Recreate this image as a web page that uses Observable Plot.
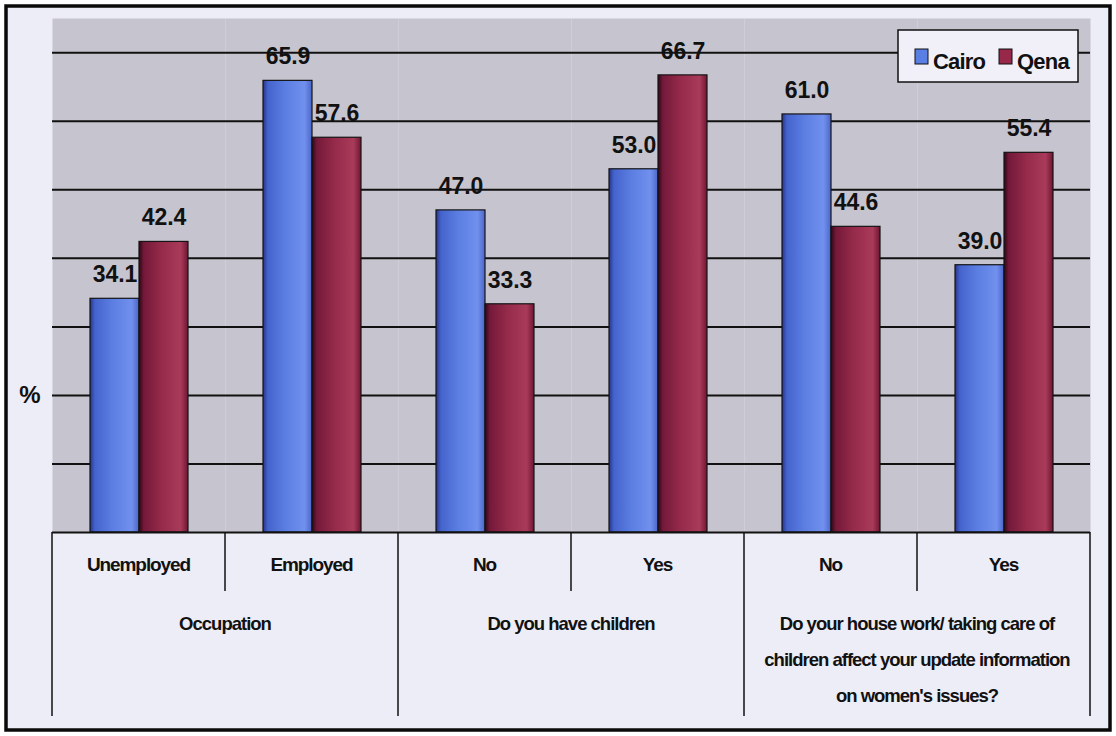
<!DOCTYPE html>
<html><head><meta charset="utf-8">
<script src="https://cdn.jsdelivr.net/npm/d3@7"></script>
<script src="https://cdn.jsdelivr.net/npm/@observablehq/plot@0.6"></script>
<style>body{margin:0;background:#fff}</style>
</head><body><div id="chart"></div>
<script>
// ---- data ----
const groupLines = [["Occupation"], ["Do you have children"], ["Do your house work/ taking care of", "children affect your update information", "on women's issues?"]];
const groupOf = [0, 0, 1, 1, 2, 2];
const answers = ["Unemployed", "Employed", "No", "Yes", "No", "Yes"];
const cairo = [34.1, 65.9, 47.0, 53.0, 61.0, 39.0];
const qena = [42.4, 57.6, 33.3, 66.7, 44.6, 55.4];
const cities = ["Cairo", "Qena"];
const yTicks = [10, 20, 30, 40, 50, 60, 70];

const keys = answers.map((a, i) => groupOf[i] + "|" + a);
const data = [];
keys.forEach((k, i) => {
  data.push({key: k, city: "Cairo", value: cairo[i]});
  data.push({key: k, city: "Qena", value: qena[i]});
});

const FONT = "'Liberation Sans', Arial, sans-serif";
const W = 1116, H = 736;
const plotTop = 18, baseY = 532, plotLeft = 52, plotRight = 1090;

const chart = Plot.plot({
  width: W, height: H,
  marginTop: plotTop, marginBottom: H - baseY, marginLeft: plotLeft, marginRight: W - plotRight,
  style: {fontFamily: FONT, background: "transparent", overflow: "visible"},
  fx: {domain: keys, padding: 0, axis: null},
  x: {domain: cities, paddingInner: 0, paddingOuter: 0.75, axis: null},
  y: {domain: [0, 75], axis: null},
  color: {domain: cities, range: ["url(#gCairo)", "url(#gQena)"]},
  marks: [
    Plot.frame({fill: "#c6c4ce", stroke: null}),
    Plot.ruleY(yTicks, {stroke: "#111", strokeWidth: 2}),
    Plot.barY(data, {fx: "key", x: "city", y: "value", fill: "city", stroke: "#151515", strokeWidth: 1.2}),
    Plot.ruleY([0], {stroke: "#111", strokeWidth: 2}),
    Plot.text(data, {fx: "key", x: "city", y: "value", text: d => d.value.toFixed(1), dy: -24,
      fontSize: 23, fontWeight: "bold", fill: "#111"})
  ]
});

const svg = d3.select(chart);
// background + border
svg.insert("rect", ":first-child").attr("x", 6).attr("y", 6).attr("width", W - 12).attr("height", H - 12)
  .attr("fill", "#ededf7").attr("stroke", "#0a0a0a").attr("stroke-width", 3.5);

// gradients
const defs = svg.insert("defs", ":first-child");
function grad(id, stops) {
  const g = defs.append("linearGradient").attr("id", id).attr("x1", 0).attr("x2", 1).attr("y1", 0).attr("y2", 0);
  stops.forEach(([o, c]) => g.append("stop").attr("offset", o).attr("stop-color", c));
}
grad("gCairo", [[0, "#26348a"], [0.1, "#4563cc"], [0.45, "#5b7ee2"], [0.85, "#7190ee"], [1, "#4a66c8"]]);
grad("gQena", [[0, "#2e0714"], [0.1, "#74193a"], [0.45, "#952a4a"], [0.85, "#a93a5a"], [1, "#6e1632"]]);

// table below the plot
const fx = chart.scale("fx");
const bw = fx.bandwidth;
const xs = keys.map(k => fx.apply(k));
const tbl = svg.append("g");
const line = (x1, y1, x2, y2) => tbl.append("line").attr("x1", x1).attr("y1", y1).attr("x2", x2).attr("y2", y2)
  .attr("stroke", "#111").attr("stroke-width", 1.5);
const subBottom = 591, groupBottom = 716;
keys.forEach((k, i) => {
  const x0 = xs[i];
  const isGroupStart = i === 0 || groupOf[i] !== groupOf[i - 1];
  line(x0, baseY, x0, isGroupStart ? groupBottom : subBottom);
  tbl.append("text").attr("x", x0 + bw / 2).attr("y", 566).attr("text-anchor", "middle").attr("dominant-baseline", "middle")
    .attr("font-size", 19).attr("font-weight", "bold").attr("letter-spacing", "-1.1px").attr("fill", "#111")
    .attr("font-family", FONT).text(answers[i]);
});
line(xs[5] + bw, baseY, xs[5] + bw, groupBottom);
groupLines.forEach((lines, g) => {
  const idx = groupOf.map((v, i) => v === g ? i : -1).filter(i => i >= 0);
  const cx = (xs[idx[0]] + xs[idx[idx.length - 1]] + bw) / 2;
  lines.forEach((t, j) => {
    tbl.append("text").attr("x", cx).attr("y", 625 + j * 36).attr("text-anchor", "middle").attr("dominant-baseline", "middle")
      .attr("font-size", 18.5).attr("font-weight", "bold").attr("letter-spacing", "-1px").attr("fill", "#111")
      .attr("font-family", FONT).text(t);
  });
});

// "%" axis label
svg.append("text").attr("x", 30).attr("y", 397).attr("text-anchor", "middle").attr("dominant-baseline", "middle")
  .attr("font-size", 24).attr("font-weight", "900").attr("font-family", FONT).attr("fill", "#111").text("%");

// legend
const lg = svg.append("g");
lg.append("rect").attr("x", 898).attr("y", 30).attr("width", 180).attr("height", 52)
  .attr("fill", "#f1f0f8").attr("stroke", "#111").attr("stroke-width", 1.5);
const items = [{c: "Cairo", sx: 915, tx: 933, fill: "#5a7fe4"}, {c: "Qena", sx: 999, tx: 1017, fill: "#97284a"}];
items.forEach(it => {
  lg.append("rect").attr("x", it.sx).attr("y", 49).attr("width", 13).attr("height", 15)
    .attr("fill", it.fill).attr("stroke", "#111").attr("stroke-width", 1);
  lg.append("text").attr("x", it.tx).attr("y", 69).attr("text-anchor", "start").attr("font-size", 22).attr("font-weight", "bold")
    .attr("letter-spacing", "-0.8px").attr("font-family", FONT).attr("fill", "#111").text(it.c);
});

document.getElementById("chart").appendChild(chart);
</script>
</body></html>
